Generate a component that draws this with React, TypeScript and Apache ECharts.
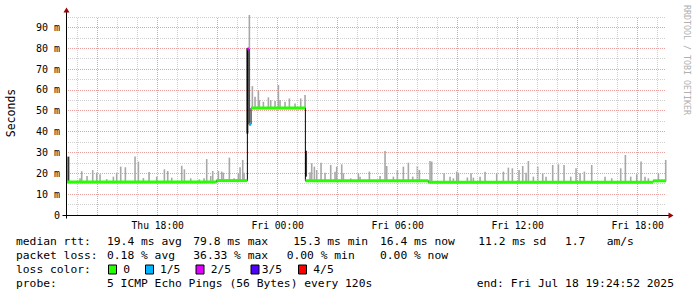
import React, { useEffect, useRef } from 'react';
import * as echarts from 'echarts';

const START = 'Thu 13:24:52';
const END = 'Fri 19:24:52';

const medianStarts = ['Thu 13:24:52', 'Thu 20:56', 'Thu 22:29', 'Thu 22:34', 'Thu 22:40', 'Fri 01:23', 'Fri 07:32', 'Fri 18:46'];
const medianValues = [15.8, 16.5, 79.6, 43.5, 51.3, 16.4, 15.7, 16.4];
const medianLoss = [0, 0, 2, 1, 0, 0, 0, 0];

const smokeTimes = [
  'Thu 14:07', 'Thu 14:12', 'Thu 14:28', 'Thu 14:45', 'Thu 14:57', 'Thu 15:07', 'Thu 15:27', 'Thu 15:47', 'Thu 15:57', 'Thu 16:09',
  'Thu 16:23', 'Thu 16:52', 'Thu 17:02', 'Thu 17:17', 'Thu 17:34', 'Thu 17:57', 'Thu 18:20', 'Thu 18:30', 'Thu 18:42', 'Thu 19:12',
  'Thu 19:20', 'Thu 19:39', 'Thu 20:05', 'Thu 20:19', 'Thu 20:27', 'Thu 20:39', 'Thu 20:45', 'Thu 21:02', 'Thu 21:12', 'Thu 21:17',
  'Thu 21:35', 'Thu 21:49', 'Thu 22:02', 'Thu 22:07', 'Thu 22:15', 'Thu 22:19', 'Thu 22:35', 'Thu 22:44', 'Thu 22:52', 'Thu 23:02',
  'Thu 23:05', 'Thu 23:17', 'Thu 23:32', 'Thu 23:39', 'Thu 23:52', 'Fri 00:02', 'Fri 00:07', 'Fri 00:22', 'Fri 00:35', 'Fri 00:52',
  'Fri 01:09', 'Fri 01:22', 'Fri 01:37', 'Fri 01:42', 'Fri 01:50', 'Fri 01:57', 'Fri 02:10', 'Fri 02:22', 'Fri 02:39', 'Fri 02:52',
  'Fri 02:57', 'Fri 03:12', 'Fri 03:17', 'Fri 03:39', 'Fri 04:02', 'Fri 04:07', 'Fri 04:35', 'Fri 05:07', 'Fri 05:22', 'Fri 05:27',
  'Fri 05:47', 'Fri 05:59', 'Fri 06:17', 'Fri 06:32', 'Fri 06:45', 'Fri 06:59', 'Fri 07:05', 'Fri 07:37', 'Fri 07:42', 'Fri 08:19',
  'Fri 08:37', 'Fri 08:47', 'Fri 08:57', 'Fri 09:02', 'Fri 09:29', 'Fri 09:40', 'Fri 09:47', 'Fri 10:07', 'Fri 10:22', 'Fri 10:57',
  'Fri 11:17', 'Fri 11:32', 'Fri 11:44', 'Fri 12:04', 'Fri 12:15', 'Fri 12:25', 'Fri 12:32', 'Fri 12:47', 'Fri 13:00', 'Fri 13:15',
  'Fri 13:25', 'Fri 13:45', 'Fri 14:02', 'Fri 14:19', 'Fri 14:39', 'Fri 14:55', 'Fri 15:07', 'Fri 15:20', 'Fri 15:42', 'Fri 16:22',
  'Fri 16:42', 'Fri 17:09', 'Fri 17:23', 'Fri 17:39', 'Fri 17:57', 'Fri 18:10', 'Fri 18:22', 'Fri 18:32', 'Fri 19:02', 'Fri 19:24',
];
const smokeTops = [
  17.6, 21, 18.7, 21.5, 20.3, 19.6, 17.2, 18.4, 20.3, 23.2,
  22.9, 28, 25.6, 17.7, 20.6, 18.4, 21.9, 21.1, 17.9, 23.6,
  21.9, 17.6, 17.1, 17.6, 26.8, 18.7, 21.1, 21.1, 20.8, 20.3,
  27.5, 17.6, 20, 22.9, 26.4, 20.3, 95.9, 61.8, 56.7, 59.9,
  55.1, 54.3, 56.4, 55.1, 54.7, 62.3, 55.1, 54.3, 55.9, 53.5,
  55.9, 57.5, 20.5, 24.8, 23.2, 21.6, 25.1, 20.3, 24, 20.8,
  23.2, 24.3, 20, 17.6, 20, 18.4, 20.8, 18.7, 30.7, 23.5,
  18.4, 21.6, 23.2, 25.1, 18.4, 23.5, 21.6, 25.9, 25.6, 20,
  18.4, 17.6, 20.8, 20.3, 18, 20, 17.9, 18.4, 20.8, 20,
  20.8, 22.7, 22.4, 21.6, 23.5, 20.3, 25.9, 18.4, 23.2, 20,
  18.4, 24, 24.3, 24, 18.4, 22.4, 20, 20.8, 24, 18.4,
  17.6, 22.4, 28.8, 18.4, 19.5, 25.6, 18.4, 17.6, 20, 26.4,
];

const darkTimes = ['Thu 13:32', 'Thu 22:29', 'Fri 01:25'];
const darkLows = [15.5, 39, 18.4];
const darkHighs = [28, 80, 30.8];

const xLabelHours = [18, 24, 30, 36, 42];
const lossColors = ['#26ff00', '#00b4ff', '#dd00ff', '#5000ff', '#ff0000'];
const lossLabels = ['0', '1/5', '2/5', '3/5', '4/5'];

const toHours = (s: string) => {
  const [d, t] = s.split(' ');
  const [hh, mm, ss = 0] = t.split(':').map(Number);
  return (d === 'Fri' ? 24 : 0) + hh + mm / 60 + ss / 3600;
};

const FONT = '"DejaVu Sans Mono", monospace';

export default function App() {
  const ref = useRef<HTMLDivElement>(null);
  useEffect(() => {
    if (!ref.current) return;
    const chart = echarts.init(ref.current, null, { renderer: 'svg' });
    const tStart = toHours(START);
    const tEnd = toHours(END);
    const mStarts = medianStarts.map(toHours);
    const medianAt = (t: number) => {
      let v = medianValues[0];
      for (let i = 0; i < mStarts.length; i++) if (t >= mStarts[i]) v = medianValues[i];
      return v;
    };
    const smokeData = smokeTimes.map((s, i) => {
      const t = toHours(s);
      return [t, medianAt(t) - 0.3, smokeTops[i]];
    });
    const darkData = darkTimes.map((s, i) => [toHours(s), darkLows[i], darkHighs[i]]);
    const segData = mStarts.map((t, i) => [t, i + 1 < mStarts.length ? mStarts[i + 1] : tEnd, medianValues[i], medianLoss[i]]);
    const stepData = mStarts.map((t, i) => [t, medianValues[i]]);
    stepData.push([tEnd, medianValues[medianValues.length - 1]]);

    const vLines: any[] = [];
    for (let h = Math.ceil(tStart); h <= tEnd; h++) {
      const major = h % 3 === 0;
      vLines.push({
        xAxis: h,
        lineStyle: { color: major ? '#e6a0a0' : '#cfcfcf', type: [1, 1], width: 1 },
      });
    }

    const fmtX = (v: number) => {
      const day = v >= 24 ? 'Fri' : 'Thu';
      const hh = Math.round(v % 24);
      return `${day} ${String(hh).padStart(2, '0')}:00`;
    };

    const barRender = (color: string, w: number) => (params: any, api: any) => {
      const t = api.value(0);
      const lo = api.value(1);
      const hi = api.value(2);
      const p1 = api.coord([t, hi]);
      const p0 = api.coord([t, lo]);
      return {
        type: 'rect',
        shape: { x: p1[0] - w / 2, y: p1[1], width: w, height: p0[1] - p1[1] },
        style: { fill: color },
      };
    };

    const graphic: any[] = [
      // axes
      { type: 'line', shape: { x1: 66.5, y1: 218.5, x2: 66.5, y2: 12 }, style: { stroke: '#000', lineWidth: 1 }, z: 100 },
      { type: 'line', shape: { x1: 62.5, y1: 215.5, x2: 669, y2: 215.5 }, style: { stroke: '#000', lineWidth: 1 }, z: 100 },
      { type: 'polygon', shape: { points: [[63.5, 12.5], [69.5, 12.5], [66.5, 7.5]] }, style: { fill: '#a00000' }, z: 100 },
      { type: 'polygon', shape: { points: [[668.5, 212.5], [668.5, 218.5], [673.5, 215.5]] }, style: { fill: '#a00000' }, z: 100 },
      // y axis title
      {
        type: 'text', x: 11, y: 113, rotation: Math.PI / 2,
        style: { text: 'Seconds', fontFamily: FONT, fontSize: 11.5, fill: '#000', align: 'center', verticalAlign: 'middle' },
      },
      // watermark
      {
        type: 'text', x: 686.5, y: 60, rotation: -Math.PI / 2,
        style: { text: 'RRDTOOL / TOBI OETIKER', fontFamily: FONT, fontSize: 8.3, fill: '#b0b0b0', align: 'center', verticalAlign: 'middle' },
      },
    ];

    const addText = (text: string, x: number, y: number) =>
      graphic.push({
        type: 'text', x, y,
        style: { text, fontFamily: FONT, fontSize: 11.3, fill: '#000', align: 'left', verticalAlign: 'middle' },
      });

    const y1 = 241, y2 = 255.3, y3 = 269.5, y4 = 283.7;
    addText('median rtt:', 16, y1);
    addText('19.4 ms avg', 107, y1);
    addText('79.8 ms max', 193.3, y1);
    addText('15.3 ms min', 293.3, y1);
    addText('16.4 ms now', 380, y1);
    addText('11.2 ms sd', 478.3, y1);
    addText('1.7', 565, y1);
    addText('am/s', 606.7, y1);

    addText('packet loss:', 16, y2);
    addText('0.18 % avg', 107, y2);
    addText('36.33 % max', 193.3, y2);
    addText('0.00 % min', 286.7, y2);
    addText('0.00 % now', 380, y2);

    addText('loss color:', 16, y3);
    const swatchX = [108.5, 145.5, 196, 251, 298.5];
    const labelX = [123.3, 160, 210.7, 261.7, 313.3];
    lossLabels.forEach((lab, i) => {
      graphic.push({
        type: 'rect', shape: { x: swatchX[i], y: 265, width: 8, height: 9 },
        style: { fill: lossColors[i], stroke: '#000', lineWidth: 1 },
      });
      addText(lab, labelX[i], y3);
    });

    addText('probe:', 16, y4);
    addText('5 ICMP Echo Pings (56 Bytes) every 120s', 107, y4);
    addText('end: Fri Jul 18 19:24:52 2025', 476.7, y4);

    chart.setOption({
      animation: false,
      backgroundColor: '#ffffff',
      grid: { left: 66, width: 600, top: 16.9, height: 198.1, containLabel: false },
      xAxis: {
        type: 'value',
        min: tStart,
        max: tEnd,
        axisLine: { show: false },
        axisTick: { show: false },
        splitLine: { show: false },
        axisLabel: {
          customValues: xLabelHours,
          formatter: (v: number) => fmtX(v),
          fontFamily: FONT,
          fontSize: 9.7,
          color: '#000',
          margin: 5,
        },
      },
      yAxis: {
        type: 'value',
        min: 0,
        max: 95,
        interval: 5,
        axisLine: { show: false },
        axisTick: { show: false },
        axisLabel: {
          formatter: (v: number) => (v % 10 === 0 ? (v === 0 ? '0' : `${v} m`) : ''),
          fontFamily: FONT,
          fontSize: 10,
          color: '#000',
          margin: 6,
        },
        splitLine: {
          show: true,
          lineStyle: { color: ['#e6a0a0', '#cfcfcf'], type: [1, 1], width: 1 },
        },
      },
      graphic,
      series: [
        {
          type: 'line',
          name: 'grid',
          data: [],
          silent: true,
          z: 1,
          markLine: { silent: true, symbol: 'none', label: { show: false }, data: vLines, animation: false },
        },
        {
          type: 'custom',
          name: 'smoke',
          data: smokeData,
          encode: { x: 0, y: [1, 2] },
          renderItem: barRender('#a8a8a8', 1.6),
          z: 2,
        },
        {
          type: 'custom',
          name: 'dense',
          data: darkData,
          encode: { x: 0, y: [1, 2] },
          renderItem: barRender('#3a3a3a', 2),
          z: 3,
        },
        {
          type: 'line',
          name: 'median-step',
          data: stepData,
          step: 'end',
          symbol: 'none',
          lineStyle: { color: '#000', width: 1 },
          z: 4,
        },
        {
          type: 'custom',
          name: 'median',
          data: segData,
          encode: { x: [0, 1], y: 2 },
          z: 5,
          renderItem: (params: any, api: any) => {
            const p0 = api.coord([api.value(0), api.value(2)]);
            const p1 = api.coord([api.value(1), api.value(2)]);
            return {
              type: 'rect',
              shape: { x: p0[0], y: p0[1] - 1.5, width: Math.max(1.5, p1[0] - p0[0]), height: 3 },
              style: { fill: lossColors[api.value(3)] },
            };
          },
        },
      ],
    });
    return () => chart.dispose();
  }, []);
  return <div ref={ref} style={{ position: 'fixed', left: 0, top: 0, width: 697, height: 297, background: '#fff' }} />;
}
